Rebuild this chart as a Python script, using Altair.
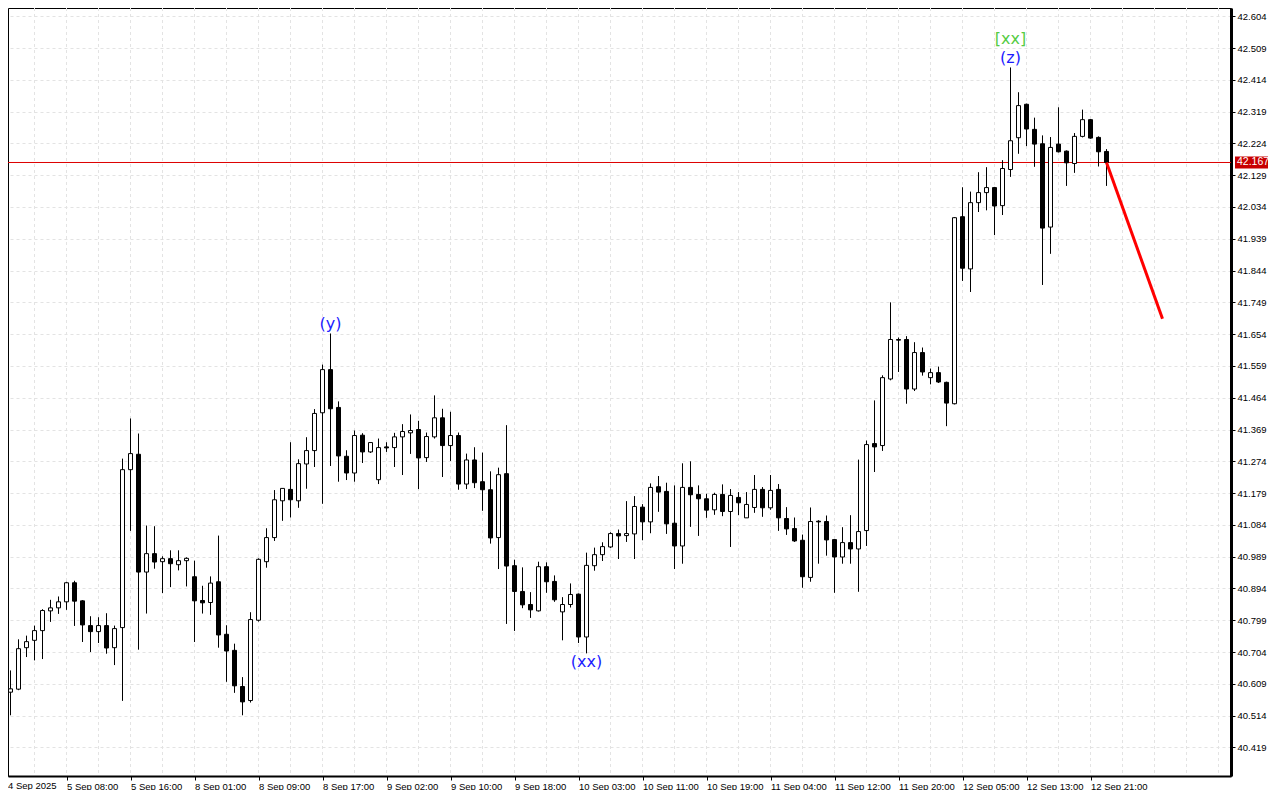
import altair as alt
import pandas as pd

opens = [40.683, 40.584, 40.593, 40.717, 40.739, 40.768, 40.827, 40.836, 40.854, 40.911,
         40.857, 40.783, 40.765, 40.783, 40.717, 40.777, 41.249, 41.295, 40.943, 40.998,
         40.974, 40.983, 40.965, 40.977, 40.929, 40.858, 40.852, 40.914, 40.757, 40.709,
         40.601, 40.559, 40.799, 40.974, 41.046, 41.156, 41.190, 41.156, 41.266, 41.306,
         41.419, 41.548, 41.435, 41.289, 41.239, 41.352, 41.302, 41.219, 41.317, 41.315,
         41.347, 41.359, 41.369, 41.285, 41.347, 41.404, 41.321, 41.351, 41.206, 41.278,
         41.213, 41.189, 41.046, 41.237, 40.962, 40.885, 40.846, 40.827, 40.959, 40.915,
         40.824, 40.846, 40.877, 40.749, 40.962, 40.995, 41.018, 41.058, 41.052, 41.057,
         41.137, 41.093, 41.198, 41.184, 41.089, 41.021, 41.196, 41.175, 41.162, 41.129,
         41.175, 41.124, 41.166, 41.105, 41.136, 41.190, 41.135, 41.190, 41.103, 41.073,
         41.038, 40.927, 41.095, 41.094, 41.040, 40.988, 41.031, 41.012, 41.067, 41.327,
         41.321, 41.520, 41.638, 41.638, 41.490, 41.599, 41.524, 41.539, 41.510, 41.446,
         42.005, 41.849, 42.047, 42.077, 42.092, 42.038, 42.146, 42.241, 42.341, 42.266,
         42.223, 41.974, 42.222, 42.201, 42.164, 42.245, 42.295, 42.242, 42.200]
highs = [40.690, 40.649, 40.742, 40.753, 40.783, 40.832, 40.860, 40.870, 40.914, 40.917,
         40.859, 40.811, 40.808, 40.820, 40.783, 41.282, 41.402, 41.357, 41.082, 41.080,
         40.990, 41.008, 41.008, 40.987, 40.977, 40.902, 40.930, 41.052, 40.784, 40.729,
         40.629, 40.823, 40.984, 41.074, 41.188, 41.193, 41.331, 41.280, 41.346, 41.430,
         41.563, 41.656, 41.453, 41.307, 41.366, 41.358, 41.330, 41.342, 41.331, 41.359,
         41.385, 41.414, 41.395, 41.360, 41.471, 41.431, 41.422, 41.360, 41.297, 41.316,
         41.300, 41.244, 41.255, 41.382, 40.980, 40.957, 40.883, 40.974, 40.972, 40.933,
         40.868, 40.909, 40.879, 41.001, 41.016, 41.032, 41.062, 41.070, 41.155, 41.170,
         41.146, 41.208, 41.230, 41.210, 41.202, 41.268, 41.274, 41.202, 41.177, 41.180,
         41.205, 41.191, 41.182, 41.182, 41.233, 41.197, 41.233, 41.206, 41.137, 41.106,
         41.055, 41.136, 41.098, 41.112, 41.041, 41.077, 41.113, 41.279, 41.336, 41.456,
         41.531, 41.749, 41.644, 41.648, 41.630, 41.614, 41.551, 41.557, 41.512, 42.004,
         42.093, 42.080, 42.138, 42.153, 42.094, 42.174, 42.451, 42.377, 42.343, 42.301,
         42.248, 42.243, 42.332, 42.203, 42.255, 42.325, 42.297, 42.245, 42.207]
lows = [40.642, 40.515, 40.590, 40.689, 40.679, 40.683, 40.794, 40.818, 40.830, 40.782,
        40.734, 40.704, 40.731, 40.699, 40.665, 40.558, 41.066, 40.711, 40.819, 40.953,
        40.880, 40.898, 40.948, 40.900, 40.734, 40.819, 40.815, 40.717, 40.615, 40.582,
        40.515, 40.553, 40.795, 40.956, 41.036, 41.096, 41.106, 41.135, 41.192, 41.257,
        41.147, 41.260, 41.213, 41.218, 41.213, 41.269, 41.299, 41.206, 41.302, 41.257,
        41.233, 41.296, 41.191, 41.272, 41.342, 41.227, 41.275, 41.189, 41.191, 41.194,
        41.126, 41.028, 40.952, 40.788, 40.767, 40.835, 40.806, 40.825, 40.881, 40.854,
        40.739, 40.837, 40.731, 40.700, 40.947, 40.976, 41.015, 40.982, 41.033, 40.982,
        41.038, 41.059, 41.123, 41.057, 40.952, 40.968, 41.078, 41.051, 41.105, 41.114,
        41.110, 41.018, 41.113, 41.105, 41.120, 41.108, 41.129, 41.066, 41.054, 41.033,
        40.896, 40.914, 40.968, 40.992, 40.881, 40.968, 40.968, 40.884, 41.021, 41.242,
        41.305, 41.516, 41.541, 41.446, 41.484, 41.530, 41.504, 41.508, 41.379, 41.444,
        41.813, 41.780, 42.019, 42.024, 41.950, 42.010, 42.124, 42.193, 42.216, 42.154,
        41.801, 41.894, 42.197, 42.097, 42.136, 42.242, 42.238, 42.155, 42.097]
closes = [40.645, 40.594, 40.714, 40.735, 40.768, 40.828, 40.836, 40.854, 40.911, 40.856,
          40.785, 40.765, 40.783, 40.716, 40.774, 41.249, 41.297, 40.943, 40.998, 40.973,
          40.983, 40.968, 40.977, 40.984, 40.857, 40.851, 40.910, 40.755, 40.707, 40.603,
          40.555, 40.801, 40.981, 41.046, 41.159, 41.193, 41.159, 41.267, 41.306, 41.417,
          41.548, 41.431, 41.290, 41.239, 41.351, 41.302, 41.330, 41.315, 41.314, 41.347,
          41.363, 41.366, 41.284, 41.348, 41.404, 41.321, 41.351, 41.206, 41.278, 41.210,
          41.189, 41.045, 41.234, 40.961, 40.885, 40.845, 40.830, 40.959, 40.914, 40.860,
          40.846, 40.876, 40.749, 40.963, 40.995, 41.019, 41.058, 41.051, 41.058, 41.139,
          41.093, 41.196, 41.182, 41.087, 41.021, 41.196, 41.174, 41.162, 41.128, 41.175,
          41.124, 41.172, 41.150, 41.145, 41.190, 41.135, 41.187, 41.105, 41.072, 41.036,
          40.929, 41.094, 41.093, 41.039, 40.988, 41.031, 41.012, 41.064, 41.324, 41.317,
          41.524, 41.638, 41.636, 41.490, 41.599, 41.541, 41.539, 41.511, 41.448, 42.002,
          41.851, 42.047, 42.077, 42.092, 42.037, 42.149, 42.232, 42.337, 42.267, 42.222,
          41.971, 42.212, 42.199, 42.166, 42.245, 42.295, 42.240, 42.199, 42.167]

price_ticks = [round(40.419 + 0.095 * k, 3) for k in range(24)]
time_tick_bars = [8, 16, 24, 32, 40, 48, 56, 64, 72, 80, 88, 96, 104, 112, 120, 128, 136]
time_labels = ["4 Sep 2025", "5 Sep 08:00", "5 Sep 16:00", "8 Sep 01:00", "8 Sep 09:00",
               "8 Sep 17:00", "9 Sep 02:00", "9 Sep 10:00", "9 Sep 18:00", "10 Sep 03:00",
               "10 Sep 11:00", "10 Sep 19:00", "11 Sep 04:00", "11 Sep 12:00", "11 Sep 20:00",
               "12 Sep 05:00", "12 Sep 13:00", "12 Sep 21:00"]
grid_bars = list(range(4, 153, 4))
current_price = 42.167
forecast_bars = [138, 145]
forecast_prices = [42.167, 41.70]
ann_bars = [41, 73, 126, 126]
ann_prices = [41.684, 40.673, 42.478, 42.535]
ann_texts = ["(y)", "(xx)", "(z)", "[xx]"]
ann_colors = ["#1c1cff", "#1c1cff", "#1c1cff", "#55cc44"]

W, H = 1223, 768
xdom = [0.6875, 153.5625]
ydom = [40.3335, 42.6287]

df = pd.DataFrame({"i": list(range(len(opens))), "open": opens, "high": highs,
                   "low": lows, "close": closes})
xs = alt.Scale(domain=xdom, nice=False, zero=False, padding=0)
ys = alt.Scale(domain=ydom, nice=False, zero=False, padding=0)

label_arr = "[" + ",".join("'" + t + "'" for t in time_labels) + "]"
xaxis = alt.Axis(values=time_tick_bars, labelExpr=label_arr + "[round(datum.value/8)]",
                 orient="bottom", grid=False, domainColor="black", domainWidth=2,
                 tickColor="black", tickSize=4, labelAlign="left", labelPadding=1,
                 labelFont="Liberation Sans", labelFontSize=9.5, labelColor="black",
                 labelOverlap=False, title=None, labelBaseline="top", labelBound=False,
                 labelFlush=False)
yaxis = alt.Axis(values=price_ticks, format=".3f", orient="right", grid=True,
                 gridColor="#e3e3e3", gridDash=[3, 3], gridWidth=1,
                 domainColor="black", domainWidth=3, tickColor="black", tickSize=4,
                 labelPadding=2, labelFont="Liberation Sans", labelFontSize=9.5,
                 labelColor="black", title=None, labelOverlap=False, labelBound=False,
                 labelFlush=False)

X = lambda f: alt.X(f, scale=xs, axis=xaxis)
Y = lambda f: alt.Y(f, scale=ys, axis=yaxis)

base = alt.Chart(df)

vgrid = alt.Chart(pd.DataFrame({"g": grid_bars})).mark_rule(
    color="#e3e3e3", strokeDash=[3, 3], strokeWidth=1).encode(x=X("g:Q"))

wicks = base.mark_rule(color="black", strokeWidth=1).encode(
    x=X("i:Q"), y=Y("low:Q"), y2="high:Q")

bodies = base.mark_bar(size=4, stroke="black", strokeWidth=1).encode(
    x=X("i:Q"), y=Y("open:Q"), y2="close:Q",
    fill=alt.condition("datum.close >= datum.open", alt.value("white"), alt.value("black")))

cp = pd.DataFrame({"p": [current_price], "t": [f"{current_price:.3f}"]})
price_line = alt.Chart(cp).mark_rule(color="#dd0000", strokeWidth=1).encode(
    y=Y("p:Q"), x=alt.value(0), x2=alt.value(W))
price_box = alt.Chart(cp).mark_rect(color="#c80000", yOffset=-6, y2Offset=6).encode(
    y=Y("p:Q"), y2="p:Q", x=alt.value(W + 4), x2=alt.value(W + 37))
price_txt = alt.Chart(cp).mark_text(color="white", align="left", baseline="middle",
                                    font="Liberation Sans", fontSize=10.5).encode(
    y=Y("p:Q"), x=alt.value(W + 6), text="t:N")

fc = pd.DataFrame({"i": forecast_bars, "p": forecast_prices})
forecast = alt.Chart(fc).mark_line(color="#ff0000", strokeWidth=3).encode(
    x=X("i:Q"), y=Y("p:Q"))

ann = pd.DataFrame({"i": ann_bars, "p": ann_prices, "t": ann_texts, "c": ann_colors})
ann_text = alt.Chart(ann).mark_text(font="DejaVu Sans", fontSize=16, baseline="middle",
                                    align="center").encode(
    x=X("i:Q"), y=Y("p:Q"), text="t:N", color=alt.Color("c:N", scale=None))

first_lbl = alt.Chart(pd.DataFrame({"t": [time_labels[0]]})).mark_text(
    align="left", baseline="top", font="Liberation Sans", fontSize=9.5,
    color="black").encode(x=alt.value(0), y=alt.value(H + 5), text="t:N")

chart = alt.layer(vgrid, price_line, wicks, bodies, forecast, ann_text,
                  price_box, price_txt, first_lbl).properties(
    width=W, height=H,
    autosize=alt.AutoSizeParams(type="none"),
    padding={"left": 0, "top": 0, "right": 40, "bottom": 14},
    background="white"
).configure_view(stroke="black", strokeWidth=1).configure_axis(labelOverlap=False)

chart.save("out.html", embed_options={"renderer": "svg", "actions": False})
